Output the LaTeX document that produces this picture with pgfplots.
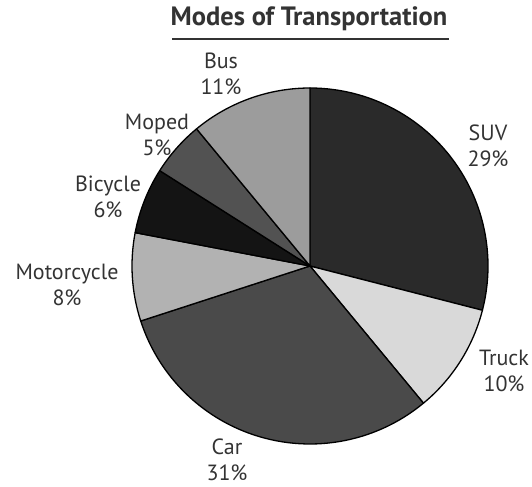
\documentclass[border=0pt]{standalone}
\usepackage{pgfplots}
\pgfplotsset{compat=1.18}
\usepackage{fontspec}
\setmainfont{PT Sans}
\definecolor{cSUV}{HTML}{2A2A2A}
\definecolor{cTruck}{HTML}{D9D9D9}
\definecolor{cCar}{HTML}{4A4A4A}
\definecolor{cMoto}{HTML}{B2B2B2}
\definecolor{cBike}{HTML}{141414}
\definecolor{cMoped}{HTML}{525252}
\definecolor{cBus}{HTML}{9C9C9C}
\definecolor{txt}{HTML}{333333}
\begin{document}
\begin{tikzpicture}
\begin{axis}[
  hide axis, scale only axis,
  width=532bp, height=487bp,
  xmin=0, xmax=532, ymin=0, ymax=487, y dir=reverse,
  clip=false,
]
\path (axis cs:0,0) rectangle (axis cs:532,487);
\xdef\cumsum{0}
\foreach \p/\c in {29/cSUV, 10/cTruck, 31/cCar, 8/cMoto, 6/cBike, 5/cMoped, 11/cBus}{
  \pgfmathsetmacro\a{90-3.6*\cumsum}
  \pgfmathsetmacro\b{\a-3.6*\p}
  \edef\temp{\noexpand\filldraw[fill=\c, draw=black, line width=1.3bp, line join=round]
    (axis cs:310,266) -- (axis cs:{310+178*cos(\a)},{266-178*sin(\a)})
    arc[start angle=\a, end angle=\b, radius=178bp] -- cycle;}
  \temp
  \pgfmathsetmacro\newcum{\cumsum+\p}
  \xdef\cumsum{\newcum}
}
\tikzset{lbl/.style={font=\fontsize{22bp}{26bp}\selectfont, text=txt, align=center, inner sep=0pt}}
\node[font=\bfseries\fontsize{26.5bp}{28bp}\selectfont, text=txt] at (axis cs:309,19) {Modes of Transportation};
\draw[txt, line width=2.5bp] (axis cs:172,39) -- (axis cs:449,39);
\node[lbl] at (axis cs:221,74) {Bus\\11\%};
\node[lbl] at (axis cs:488,146) {SUV\\29\%};
\node[lbl] at (axis cs:504,371) {Truck\\10\%};
\node[lbl] at (axis cs:227,460) {Car\\31\%};
\node[lbl] at (axis cs:67,285) {Motorcycle\\8\%};
\node[lbl] at (axis cs:108,197) {Bicycle\\6\%};
\node[lbl] at (axis cs:157,135) {Moped\\5\%};
\end{axis}
\end{tikzpicture}
\end{document}
